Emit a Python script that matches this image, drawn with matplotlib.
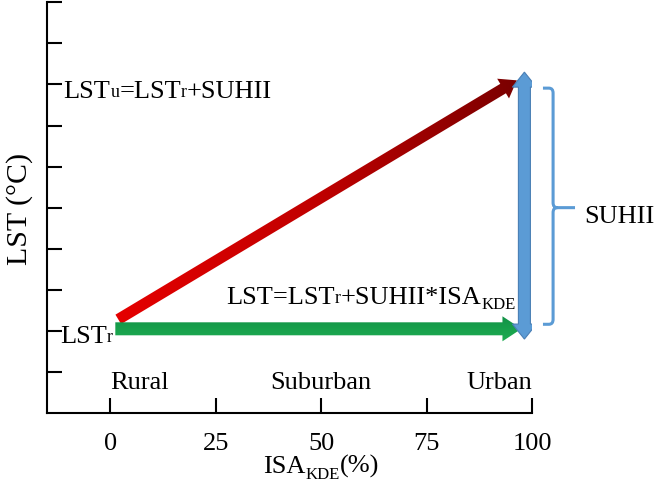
import numpy as np
import matplotlib
matplotlib.use('Agg')
import matplotlib.pyplot as plt
from matplotlib.patches import Polygon, PathPatch
from matplotlib.path import Path
from matplotlib.colors import LinearSegmentedColormap
from matplotlib.transforms import IdentityTransform

plt.rcParams['font.family'] = 'Liberation Serif'

# axis ticks
isa_ticks = [0, 25, 50, 75, 100]
lst_ticks = [1, 2, 3, 4, 5, 6, 7, 8, 9, 10]

# zones along ISA_KDE
zones = ['Rural', 'Suburban', 'Urban']
zone_isa = [0, 50, 100]
zone_lst = 0.61

# arrows: (ISA %, LST) at start and end
green_isa = [1.2, 97.5]
green_lst = [2.05, 2.05]
red_isa = [1.9, 96.4]
red_lst = [2.28, 8.1]
blue_isa = [98.2, 98.2]
blue_lst = [1.8, 8.3]

# SUHII brace
brace_isa = [102.6, 105.0, 110.2]
brace_lst = [2.16, 5.0, 7.91]

SIZE = 19
SMALL = 13
SUB = 12


def put_text(ax, x, y, parts):
    # parts: (text, kind) with kind '' normal, 'sm' small on baseline, 'sub' lowered
    kinds = {'': (SIZE, 0.0), 'sm': (SMALL, 0.0), 'sub': (SUB, -5.0)}
    s0, k0 = parts[0]
    fs, shift = kinds[k0]
    prev = ax.text(x, y, s0, fontsize=fs, va='baseline', ha='left', clip_on=False)
    prev_fs, prev_shift = fs, shift
    for s, k in parts[1:]:
        fs, shift = kinds[k]
        dy = shift - prev_shift + 0.22 * prev_fs - 0.22 * fs
        prev = ax.annotate(s, xy=(1, 0), xycoords=prev, xytext=(0, dy),
                           textcoords='offset points', fontsize=fs,
                           va='bottom', ha='left')
        prev_fs, prev_shift = fs, shift
    return prev


def arrow_verts(ax, xs, ys, shaft, head_w, head_len, both=False):
    p = ax.transData.transform(np.column_stack([xs, ys]))
    p0, p1 = p[0], p[1]
    d = p1 - p0
    u = d / np.hypot(*d)
    n = np.array([-u[1], u[0]])
    hs, hw = shaft / 2, head_w / 2
    a = p1 - u * head_len
    if not both:
        v = [p0 + n * hs, a + n * hs, a + n * hw, p1, a - n * hw, a - n * hs, p0 - n * hs]
    else:
        b = p0 + u * head_len
        v = [p0, b + n * hw, b + n * hs, a + n * hs, a + n * hw, p1,
             a - n * hw, a - n * hs, b - n * hs, b - n * hw]
    return np.array(v)


fig = plt.figure(figsize=(6.55, 4.81), dpi=100)
ax = fig.add_axes([47 / 655, 67 / 481, 485 / 655, 410.7 / 481])
ax.set_xlim(-15, 100)
ax.set_ylim(0, 10)
ax.spines['top'].set_visible(False)
ax.spines['right'].set_visible(False)
for s in ['left', 'bottom']:
    ax.spines[s].set_linewidth(1.5)
ax.set_xticks(isa_ticks)
ax.set_yticks(lst_ticks)
ax.tick_params(direction='in', length=10.5, width=1.5, labelsize=SIZE, pad=14)
ax.tick_params(axis='y', labelleft=False)
ax.set_ylabel('LST (°C)', fontsize=21.5)
ax.yaxis.set_label_coords(-0.028, 0.5)

# red arrow with gradient along its length
red_poly = Polygon(arrow_verts(ax, red_isa, red_lst, 11, 23, 16), transform=IdentityTransform())
red_cmap = LinearSegmentedColormap.from_list('red', ['#e60000', '#c00000', '#780000'])
im = ax.imshow(np.linspace(0, 1, 256)[None, :], extent=[0, 98, 1.5, 9], aspect='auto',
               cmap=red_cmap, zorder=2)
im.set_clip_path(red_poly)

# green arrow, vertical gradient
green_poly = Polygon(arrow_verts(ax, green_isa, green_lst, 13, 25, 19), transform=IdentityTransform())
green_cmap = LinearSegmentedColormap.from_list('green', ['#22b254', '#18a04c', '#0f8a45'])
im = ax.imshow(np.linspace(0, 1, 64)[:, None], extent=[0, 99, 1.6, 2.5], aspect='auto',
               origin='lower', cmap=green_cmap, zorder=3)
im.set_clip_path(green_poly)

# blue double arrow
blue = Polygon(arrow_verts(ax, blue_isa, blue_lst, 12, 24, 15, both=True),
               transform=IdentityTransform(), facecolor='#5b9bd5', edgecolor='#4a7fb5',
               linewidth=0.8, zorder=4)
ax.add_patch(blue)

# brace with rounded corners
x0, x1, x2 = brace_isa
y0, ym, y1 = brace_lst
rx, ry = 1.0, 0.12
verts = [(x0, y1), (x1 - rx, y1), (x1, y1), (x1, y1 - ry),
         (x1, ym + ry), (x1, ym), (x1 + rx, ym), (x2, ym),
         (x1 + rx, ym), (x1, ym), (x1, ym - ry),
         (x1, y0 + ry), (x1, y0), (x1 - rx, y0), (x0, y0)]
codes = [Path.MOVETO, Path.LINETO, Path.CURVE3, Path.CURVE3,
         Path.LINETO, Path.CURVE3, Path.CURVE3, Path.LINETO,
         Path.MOVETO, Path.CURVE3, Path.CURVE3,
         Path.LINETO, Path.CURVE3, Path.CURVE3, Path.LINETO]
ax.add_patch(PathPatch(Path(verts, codes), facecolor='none', edgecolor='#5b9bd5',
                       lw=2.2, capstyle='butt', clip_on=False))
ax.text(112.4, 4.64, 'SUHII', fontsize=SIZE, va='baseline', ha='left')

# labels
put_text(ax, -11.1, 7.70, [('LST', ''), ('u', 'sm'), ('=LST', ''), ('r', 'sm'), ('+SUHII', '')])
put_text(ax, -11.85, 1.73, [('LST', ''), ('r', 'sm')])
put_text(ax, 27.5, 2.69, [('LST=LST', ''), ('r', 'sm'), ('+SUHII*ISA', ''), ('KDE', 'sub')])
put_text(ax, 36.3, -1.43, [('ISA', ''), ('KDE', 'sub'), ('(%)', '')])

for name, x, ha in zip(zones, zone_isa, ['left', 'center', 'right']):
    ax.text(x, zone_lst, name, fontsize=SIZE, ha=ha, va='baseline')

fig.savefig('out.png', dpi=100)
